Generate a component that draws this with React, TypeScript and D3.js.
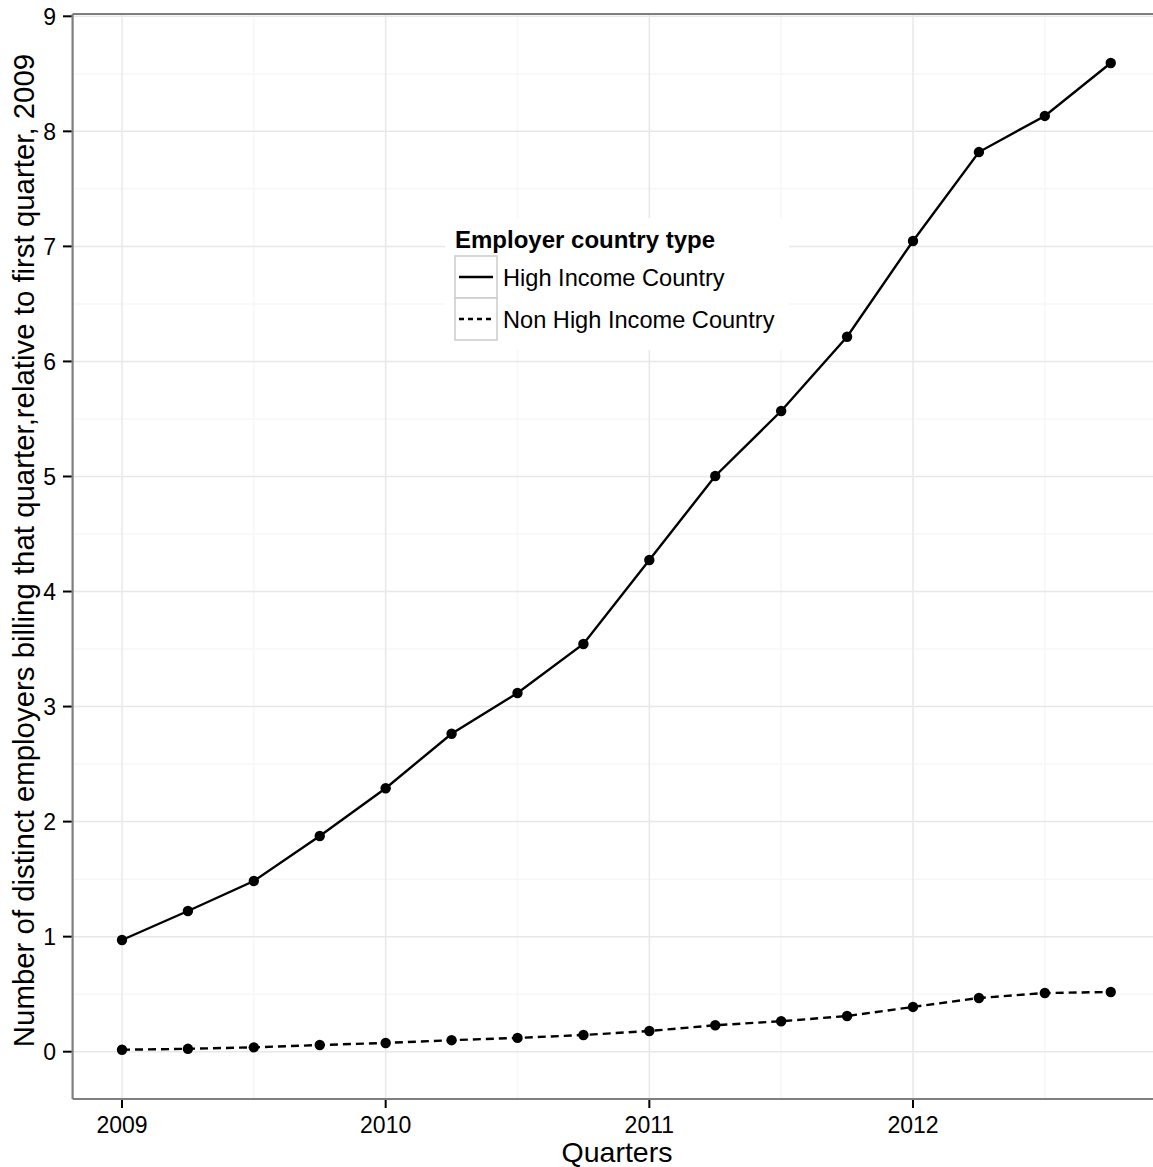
import React from "react";
import * as d3 from "d3";

const quarters = [2009, 2009.25, 2009.5, 2009.75, 2010, 2010.25, 2010.5, 2010.75, 2011, 2011.25, 2011.5, 2011.75, 2012, 2012.25, 2012.5, 2012.75];
const highIncome = [0.971, 1.223, 1.484, 1.875, 2.29, 2.764, 3.118, 3.544, 4.274, 5.004, 5.569, 6.215, 7.047, 7.82, 8.134, 8.594];
const nonHighIncome = [0.017, 0.025, 0.038, 0.058, 0.076, 0.1, 0.12, 0.145, 0.18, 0.23, 0.265, 0.31, 0.389, 0.467, 0.51, 0.519];
const yTicks = [0, 1, 2, 3, 4, 5, 6, 7, 8, 9];
const yMinor = [0.5, 1.5, 2.5, 3.5, 4.5, 5.5, 6.5, 7.5, 8.5];
const xTicks = [2009, 2010, 2011, 2012];
const xMinor = [2009.5, 2010.5, 2011.5, 2012.5];
const seriesNames = ["High Income Country", "Non High Income Country"];
const legendTitle = "Employer country type";
const xTitle = "Quarters";
const yTitle = "Number of distinct employers billing that quarter,relative to first quarter, 2009";

const W = 1153;
const H = 1167;
const FONT = "'Liberation Sans', Arial, Helvetica, sans-serif";

export default function App() {
  const panelLeft = 72.6;
  const panelTop = 14;
  const panelBottom = 1099;
  const x = d3.scaleLinear().domain([2009, 2012]).range([122, 913]);
  const y = d3.scaleLinear().domain([0, 9]).range([1051.7, 16.3]);
  const line = d3
    .line<number>()
    .x((_, i) => x(quarters[i]))
    .y((d) => y(d));
  const series = [
    { values: highIncome, dash: undefined as string | undefined },
    { values: nonHighIncome, dash: "8,5" },
  ];
  return (
    <svg
      width={W}
      height={H}
      style={{ position: "absolute", left: 0, top: 0, background: "#fff" }}
      fontFamily={FONT}
    >
      <rect x={0} y={0} width={W} height={H} fill="#fff" />
      {/* minor grid */}
      {yMinor.map((v) => (
        <line key={"ym" + v} x1={panelLeft} x2={W} y1={y(v)} y2={y(v)} stroke="#f7f7f7" strokeWidth={1.5} />
      ))}
      {xMinor.map((v) => (
        <line key={"xm" + v} x1={x(v)} x2={x(v)} y1={panelTop} y2={panelBottom} stroke="#f7f7f7" strokeWidth={1.5} />
      ))}
      {/* major grid */}
      {yTicks.map((v) => (
        <line key={"yg" + v} x1={panelLeft} x2={W} y1={y(v)} y2={y(v)} stroke="#e8e8e8" strokeWidth={1.5} />
      ))}
      {xTicks.map((v) => (
        <line key={"xg" + v} x1={x(v)} x2={x(v)} y1={panelTop} y2={panelBottom} stroke="#e8e8e8" strokeWidth={1.5} />
      ))}
      {/* data */}
      {series.map((s, si) => (
        <g key={"s" + si}>
          <path d={line(s.values) || ""} fill="none" stroke="#000" strokeWidth={2.4} strokeDasharray={s.dash} />
          {s.values.map((v, i) => (
            <circle key={i} cx={x(quarters[i])} cy={y(v)} r={5.2} fill="#000" />
          ))}
        </g>
      ))}
      {/* panel border */}
      <line x1={panelLeft} x2={W} y1={panelTop} y2={panelTop} stroke="#7f7f7f" strokeWidth={2.2} />
      <line x1={panelLeft} x2={W} y1={panelBottom} y2={panelBottom} stroke="#7f7f7f" strokeWidth={2.2} />
      <line x1={panelLeft} x2={panelLeft} y1={panelTop} y2={panelBottom} stroke="#7f7f7f" strokeWidth={2.2} />
      {/* y axis ticks */}
      {yTicks.map((v) => (
        <g key={"yt" + v}>
          <line x1={63} x2={panelLeft - 1} y1={y(v)} y2={y(v)} stroke="#000" strokeWidth={2} />
          <text x={56} y={y(v)} dy="0.36em" textAnchor="end" fontSize={23} fill="#000">
            {v}
          </text>
        </g>
      ))}
      {/* x axis ticks */}
      {xTicks.map((v) => (
        <g key={"xt" + v}>
          <line x1={x(v)} x2={x(v)} y1={panelBottom + 1} y2={1108} stroke="#000" strokeWidth={2} />
          <text x={x(v)} y={1133} textAnchor="middle" fontSize={23} fill="#000">
            {v}
          </text>
        </g>
      ))}
      {/* axis titles */}
      <text x={617} y={1162} textAnchor="middle" fontSize={28.5} fill="#000">
        {xTitle}
      </text>
      <text
        transform={`translate(34, ${(panelTop + panelBottom) / 2 - 6}) rotate(-90)`}
        textAnchor="middle"
        fontSize={29.4}
        fill="#000"
      >
        {yTitle}
      </text>
      {/* legend */}
      <g>
        <rect x={445} y={218} width={344} height={132} fill="#fff" />
        <text x={455} y={248} fontSize={24} fontWeight="bold" fill="#000">
          {legendTitle}
        </text>
        {seriesNames.map((name, i) => {
          const top = 256 + i * 42;
          const cy = top + 21;
          return (
            <g key={name}>
              <rect x={455} y={top} width={42} height={42} fill="#fff" stroke="#cccccc" strokeWidth={1.5} />
              <line
                x1={459}
                x2={493}
                y1={cy}
                y2={cy}
                stroke="#000"
                strokeWidth={2.4}
                strokeDasharray={series[i].dash ? "5,4" : undefined}
              />
              <text x={503} y={cy + 8.5} fontSize={23.6} fill="#000">
                {name}
              </text>
            </g>
          );
        })}
      </g>
    </svg>
  );
}
